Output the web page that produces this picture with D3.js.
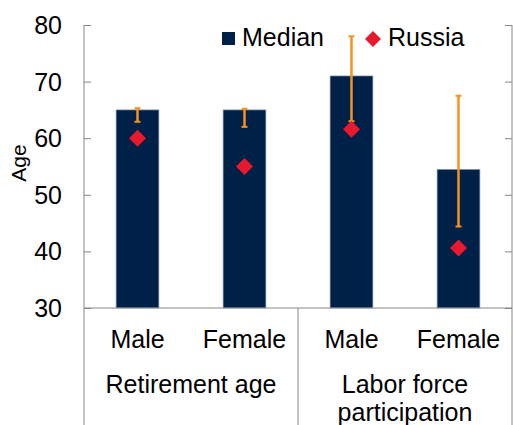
<!DOCTYPE html>
<html><head><meta charset="utf-8">
<script src="https://cdn.jsdelivr.net/npm/d3@7"></script>
<style>html,body{margin:0;padding:0;background:#fff;}svg{display:block;font-family:"Liberation Sans",Arial,sans-serif;}</style>
</head><body><svg id="c" width="513" height="425"></svg>
<script>
const groups = ["Retirement age", "Labor force participation"];
const categories = ["Male", "Female", "Male", "Female"];
const categoryGroup = [0, 0, 1, 1];
const median = [65, 65, 71, 54.5];
const russia = [60, 55, 61.6, 40.6];
const rangeLow = [62.9, 62, 63, 44.4];
const rangeHigh = [65.3, 65.2, 78, 67.5];
const yTicks = [30, 40, 50, 60, 70, 80];

const svg = d3.select("#c");
const L = 84, R = 512, T = 25, B = 308;
const keys = categories.map((c, i) => i);
const x = d3.scaleBand().domain(keys).range([L, R]).padding(0);
const y = d3.scaleLinear().domain([30, 80]).range([B, T]);
const barW = x.bandwidth() * 0.4;
const axisCol = "#868686";

// bars
svg.selectAll("rect.bar").data(keys).join("rect")
  .attr("x", i => x(i) + (x.bandwidth() - barW) / 2)
  .attr("y", i => y(median[i]))
  .attr("width", barW)
  .attr("height", i => y(30) - y(median[i]))
  .attr("fill", "#002147")
  .attr("stroke", "#8e9db3").attr("stroke-width", 0.7);

// error ranges
const cx = i => x(i) + x.bandwidth() / 2;
const eg = svg.append("g").attr("stroke", "#F7901E").attr("stroke-width", 2.5);
keys.forEach(i => {
  eg.append("line").attr("x1", cx(i)).attr("x2", cx(i)).attr("y1", y(rangeHigh[i])).attr("y2", y(rangeLow[i]));
  [rangeHigh[i], rangeLow[i]].forEach(v => eg.append("line").attr("stroke-width", 2)
    .attr("x1", cx(i) - 3).attr("x2", cx(i) + 3).attr("y1", y(v)).attr("y2", y(v)));
});

// russia diamonds
svg.selectAll("path.ru").data(keys).join("path")
  .attr("d", d3.symbol().type(d3.symbolSquare).size(145)())
  .attr("transform", i => `translate(${cx(i)},${y(russia[i])}) rotate(45)`)
  .attr("fill", "#E8192C");

// left axis
const yl = svg.append("g").attr("transform", `translate(${L},0)`)
  .call(d3.axisRight(y).tickValues(yTicks).tickSize(7).tickFormat(""));
yl.select(".domain").remove();
yl.selectAll("line").attr("stroke", axisCol);
svg.append("line").attr("x1", L).attr("x2", L).attr("y1", T).attr("y2", 425).attr("stroke", axisCol);
// right axis
const yr = svg.append("g").attr("transform", `translate(${R},0)`)
  .call(d3.axisLeft(y).tickValues(yTicks).tickSize(7).tickFormat(""));
yr.select(".domain").remove();
yr.selectAll("line").attr("stroke", axisCol);
svg.append("line").attr("x1", R).attr("x2", R).attr("y1", T).attr("y2", 425).attr("stroke", axisCol);

// tick labels
svg.selectAll("text.yt").data(yTicks).join("text")
  .attr("x", 62).attr("y", d => y(d)).attr("dy", "0.36em")
  .attr("text-anchor", "end").attr("font-size", 25).attr("fill", "#000").text(d => d);

// y title
svg.append("text").attr("transform", "translate(26,163) rotate(-90)")
  .attr("text-anchor", "middle").attr("font-size", 21).text("Age");

// x axis
svg.append("line").attr("x1", L).attr("x2", R).attr("y1", B).attr("y2", B).attr("stroke", axisCol);
const sepX = x(2);
svg.append("line").attr("x1", sepX).attr("x2", sepX).attr("y1", B).attr("y2", 425).attr("stroke", axisCol);

svg.selectAll("text.cat").data(keys).join("text")
  .attr("x", cx).attr("y", 348).attr("text-anchor", "middle").attr("font-size", 25).text(i => categories[i]);

const gCenter = gi => {
  const ks = keys.filter(i => categoryGroup[i] === gi);
  return (x(ks[0]) + x(ks[ks.length - 1]) + x.bandwidth()) / 2;
};
svg.append("text").attr("x", gCenter(0)).attr("y", 393).attr("text-anchor", "middle").attr("font-size", 25).text(groups[0]);
const g2 = svg.append("text").attr("x", gCenter(1)).attr("y", 393).attr("text-anchor", "middle").attr("font-size", 25);
g2.append("tspan").attr("x", gCenter(1)).text("Labor force");
g2.append("tspan").attr("x", gCenter(1)).attr("dy", 28).text("participation");

// legend
svg.append("rect").attr("x", 222).attr("y", 32).attr("width", 13).attr("height", 13).attr("fill", "#002147");
svg.append("text").attr("x", 242).attr("y", 46).attr("font-size", 25).text("Median");
svg.append("path").attr("d", d3.symbol().type(d3.symbolSquare).size(128)())
  .attr("transform", "translate(373,39) rotate(45)").attr("fill", "#E8192C");
svg.append("text").attr("x", 388).attr("y", 46).attr("font-size", 25).text("Russia");
</script></body></html>
